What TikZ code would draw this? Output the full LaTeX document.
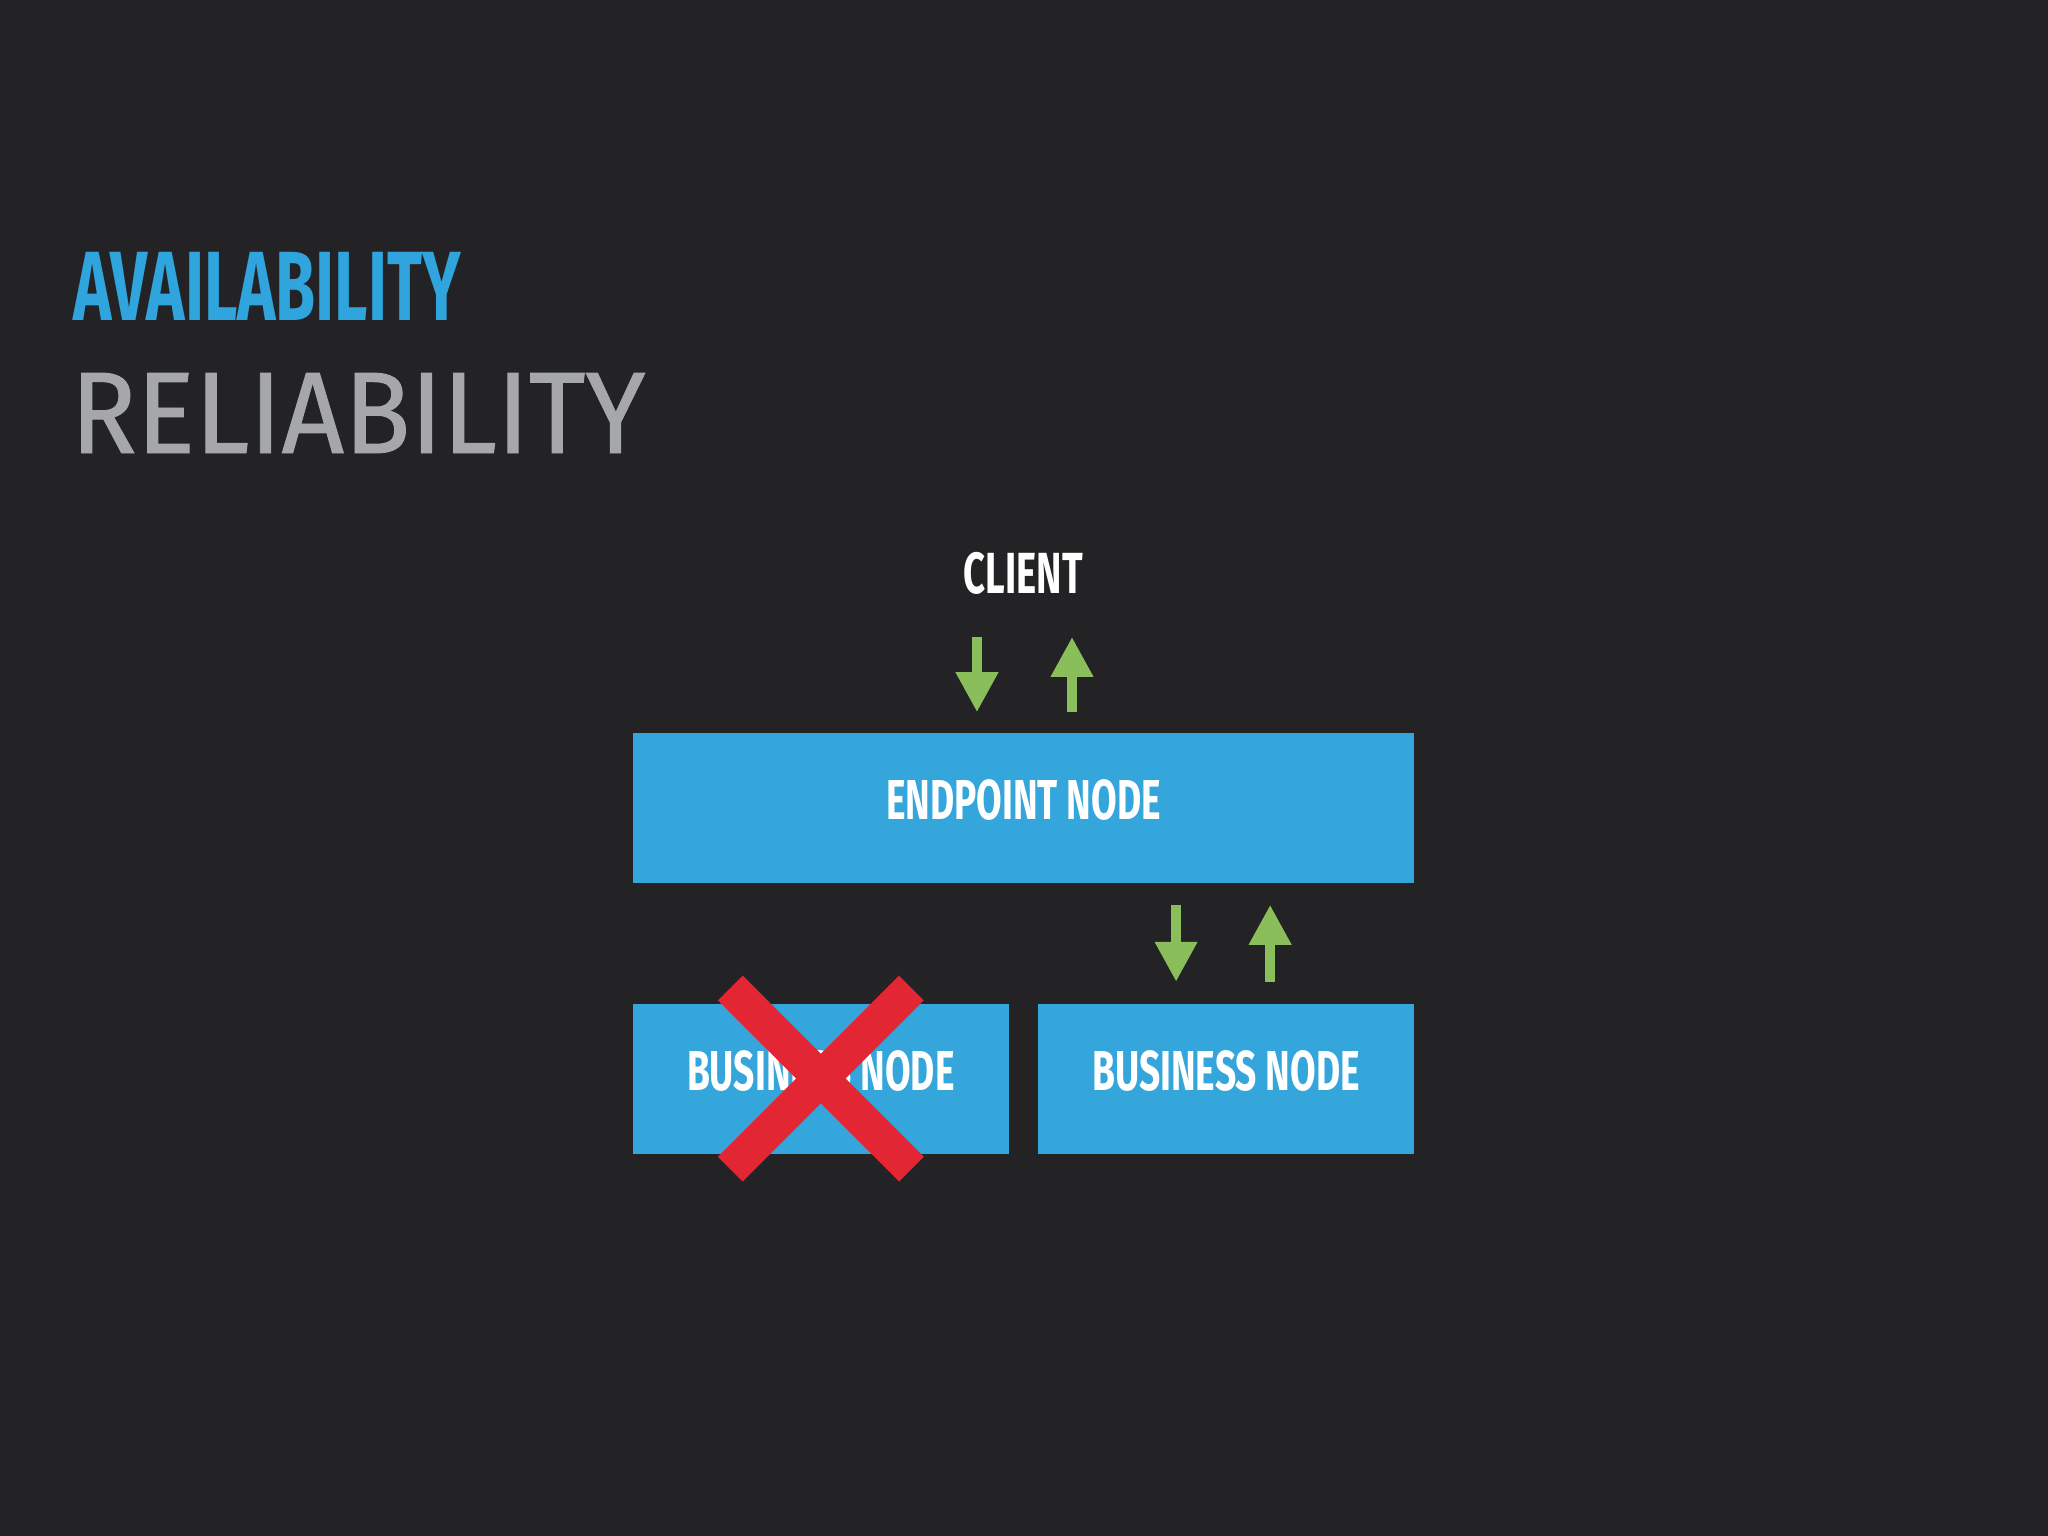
\documentclass[tikz,border=0pt]{standalone}
\usepackage{fontspec}
\setmainfont{Fira Sans}
\newfontfamily\dincond[FakeStretch=0.66]{Fira Sans}
\newfontfamily\dinwide[FakeStretch=0.94,FakeBold=0.8]{Fira Sans}
\usetikzlibrary{arrows.meta,positioning}
\definecolor{bgdark}{RGB}{35,35,37}
\definecolor{boxblue}{RGB}{52,166,219}
\definecolor{titleblue}{RGB}{47,164,221}
\definecolor{titlegray}{RGB}{165,167,169}
\definecolor{arrowgreen}{RGB}{138,190,90}
\definecolor{crossred}{RGB}{226,38,51}
\tikzset{%
  nodebox/.style = {shape=rectangle, fill=boxblue, text=white,%
                    inner sep=0pt, minimum height=1.5cm, text depth=0.17cm,%
                    font=\dincond\bfseries\fontsize{16}{16}\selectfont},%
  endbox/.style  = {nodebox, minimum width=7.81cm},%
  bizbox/.style  = {nodebox, minimum width=3.76cm},%
  flow/.style    = {draw=arrowgreen, line width=0.1cm,%
                    -{Triangle[length=0.4cm,width=0.4cm]}},%
  cross/.style   = {draw=crossred, line width=0.35cm}%
}
\begin{document}
\begin{tikzpicture}[x=0.01cm, y=-0.01cm, every node/.style={inner sep=0pt}]
  \fill[bgdark] (0,0) rectangle (2048,1536);
  % titles
  \node[anchor=base west, text=titleblue, font=\dincond\bfseries\fontsize{28}{28}\selectfont]
    (avail) at (73,320) {AVAILABILITY};
  \node[anchor=base west, text=titlegray, font=\dinwide\fontsize{33}{33}\selectfont]
    (relia) at (70,453) {RELIABILITY};
  % boxes
  \node[endbox] (endpoint) at (1023.5,808) {ENDPOINT NODE};
  \node[bizbox, below=1.19cm of endpoint.south west, anchor=north west] (bizleft) {BUSINESS NODE};
  \node[bizbox, below=1.19cm of endpoint.south east, anchor=north east] (bizright) {BUSINESS NODE};
  \node[above=1.39cm of endpoint.north, anchor=base, text=white,
        font=\dincond\bfseries\fontsize{16.5}{16.5}\selectfont] (client) {CLIENT};
  % requests and replies
  \draw[flow] ([xshift=-0.465cm, yshift=-0.42cm]client.south) -- ([xshift=-0.465cm, yshift=0.2cm]endpoint.north);
  \draw[flow] ([xshift=0.485cm, yshift=0.2cm]endpoint.north) -- ([xshift=0.485cm, yshift=-0.42cm]client.south);
  \draw[flow] ([xshift=-0.5cm, yshift=-0.21cm]bizright.north |- endpoint.south) -- ([xshift=-0.5cm, yshift=0.21cm]bizright.north);
  \draw[flow] ([xshift=0.44cm, yshift=0.21cm]bizright.north) -- ([xshift=0.44cm, yshift=-0.21cm]bizright.north |- endpoint.south);
  % failed node
  \draw[cross] ([shift={(-0.905cm,0.905cm)}]bizleft.center) -- ([shift={(0.905cm,-0.905cm)}]bizleft.center);
  \draw[cross] ([shift={(0.905cm,0.905cm)}]bizleft.center) -- ([shift={(-0.905cm,-0.905cm)}]bizleft.center);
\end{tikzpicture}
\end{document}
